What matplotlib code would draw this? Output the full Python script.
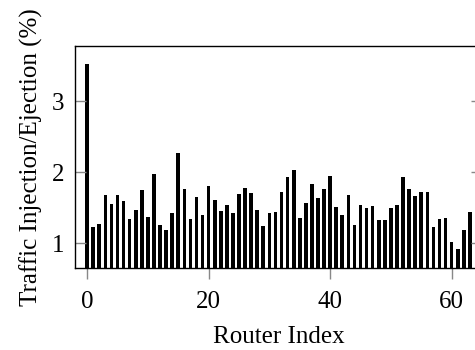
import numpy as np
import matplotlib as mpl
mpl.use('Agg')
import matplotlib.pyplot as plt

# per-router traffic share
router_index = np.arange(64)
traffic = [3.52, 1.23, 1.27, 1.68, 1.55, 1.67, 1.59, 1.34, 1.46, 1.75,
           1.37, 1.97, 1.26, 1.18, 1.43, 2.27, 1.76, 1.34, 1.65, 1.40,
           1.81, 1.61, 1.45, 1.53, 1.43, 1.69, 1.78, 1.70, 1.47, 1.24,
           1.42, 1.44, 1.72, 1.93, 2.03, 1.35, 1.56, 1.83, 1.64, 1.76,
           1.94, 1.51, 1.39, 1.68, 1.26, 1.53, 1.50, 1.52, 1.32, 1.33,
           1.49, 1.53, 1.93, 1.76, 1.66, 1.72, 1.72, 1.23, 1.34, 1.35,
           1.01, 0.91, 1.18, 1.44]
xticks = [0, 20, 40, 60]
yticks = [1, 2, 3]

plt.rcParams['font.family'] = ['Liberation Serif', 'DejaVu Serif']
plt.rcParams['font.size'] = 18

fig = plt.figure(figsize=(4.75, 3.5), dpi=100)
ax = fig.add_axes([75/475, 81.7/350, 407/475, 222.6/350])

ax.bar(router_index, traffic, width=0.6, color='black', linewidth=0)

ax.set_xlim(-2, 65)
ax.set_ylim(0.644, 3.78)
ax.set_xticks(xticks)
ax.set_yticks(yticks)
ax.tick_params(axis='x', direction='out', length=8, width=1, color='#888888', pad=8)
ax.tick_params(axis='y', direction='in', length=8, width=1, color='#888888',
               left=True, right=True, pad=8)
for s in ax.spines.values():
    s.set_linewidth(1)

ax.set_xlabel('Router Index', labelpad=10)
ax.set_ylabel('Traffic Injection/Ejection (%)', labelpad=6)

fig.savefig('out.png', dpi=100)
